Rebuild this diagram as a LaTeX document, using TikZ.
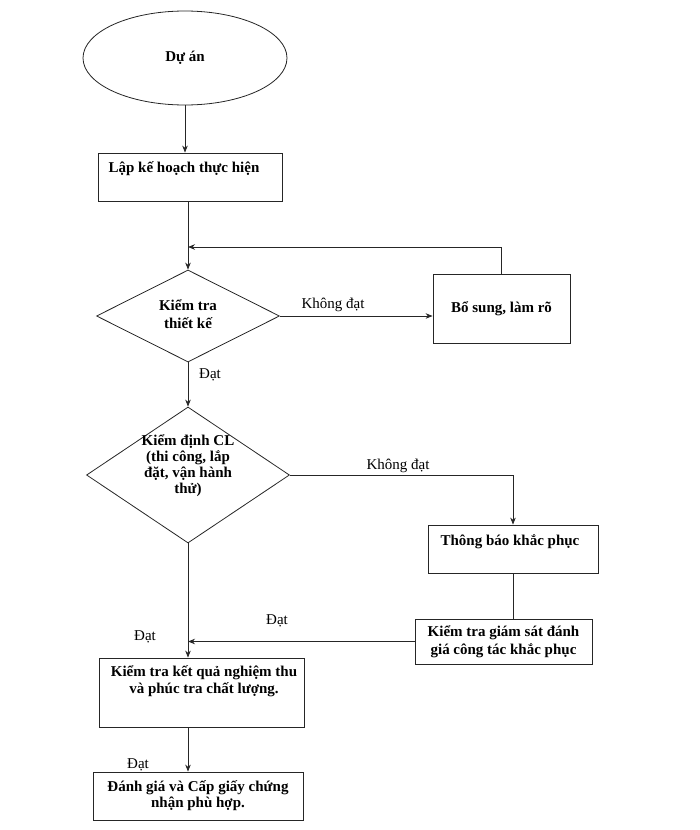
\documentclass[tikz,border=0pt]{standalone}
\usepackage{fontspec}
\setmainfont{Liberation Serif}
\usetikzlibrary{shapes.geometric,arrows.meta,calc}
\begin{document}
\begin{tikzpicture}[x=1pt,y=-1pt,
  box/.style={draw=black!85,line width=0.8pt,inner sep=0pt},
  bt/.style={font=\bfseries\fontsize{15}{17.5}\selectfont,align=center,inner sep=0pt},
  lbl/.style={font=\fontsize{15}{17}\selectfont,inner sep=0pt},
  flow/.style={draw=black!85,line width=0.8pt},
  arr/.style={flow,-{Stealth[length=7pt,width=5.5pt]}}]
\useasboundingbox (0,0) rectangle (700,830);
% nodes
\node[box,ellipse,minimum width=204pt,minimum height=94pt,bt] (proj) at (185,58) {Dự án};
\node[box,minimum width=184pt,minimum height=48pt] (plan) at (190,177) {};
\node[bt] (plant) at (184,169) {Lập kế hoạch thực hiện};
\node[box,diamond,minimum width=183pt,minimum height=92pt] (d1) at (188,316) {};
\node[bt] (d1t) at (188,314) {Kiểm tra\\thiết kế};
\node[box,minimum width=137pt,minimum height=69pt,bt] (bs) at (501.5,308.5) {Bổ sung, làm rõ};
\node[box,diamond,minimum width=203pt,minimum height=136pt] (d2) at (188,475) {};
\node[bt,font=\bfseries\fontsize{15}{16}\selectfont] (d2t) at (188,466) {Kiểm định CL\\(thi công, lắp\\đặt, vận hành\\thử)};
\node[box,minimum width=170pt,minimum height=48pt] (tb) at (513,549) {};
\node[bt] (tbt) at (510,542) {Thông báo khắc phục};
\node[box,minimum width=177pt,minimum height=45pt,bt] (kg) at (503.5,641.5) {Kiểm tra giám sát đánh\\giá công tác khắc phục};
\node[box,minimum width=205pt,minimum height=69pt] (kq) at (201.5,692.5) {};
\node[bt] (kqt) at (204,681) {Kiểm tra kết quả nghiệm thu\\và phúc tra chất lượng.};
\node[box,minimum width=210pt,minimum height=48pt,bt,font=\bfseries\fontsize{15}{16}\selectfont] (dg) at (198,796) {Đánh giá và Cấp giấy chứng\\nhận phù hợp.};
% labels
\node[lbl] (l1) at (333,305) {Không đạt};
\node[lbl] (l2) at (210,375) {Đạt};
\node[lbl] (l3) at (398,466) {Không đạt};
\node[lbl] (l4) at (277,621) {Đạt};
\node[lbl] (l5) at (145,637) {Đạt};
\node[lbl] (l6) at (138,765) {Đạt};
% connectors
\coordinate (fb) at (188,247);
\draw[arr] (proj.south) -- (plan.north -| proj.south);
\draw[arr] (plan.south -| d1.north) -- (d1.north);
\draw[arr] (bs.north) |- (fb);
\draw[arr] (d1.east) -- (d1.east -| bs.west);
\draw[arr] (d1.south) -- (d2.north);
\draw[arr] (d2.east) -| (tb.north);
\draw[flow] (tb.south) -- (tb.south |- kg.north);
\draw[arr] (d2.south) -- (d2.south |- kq.north);
\draw[arr] (kg.west) -- (kg.west -| d2.south);
\draw[arr] (kq.south -| d2.south) -- (dg.north -| d2.south);
\end{tikzpicture}
\end{document}
